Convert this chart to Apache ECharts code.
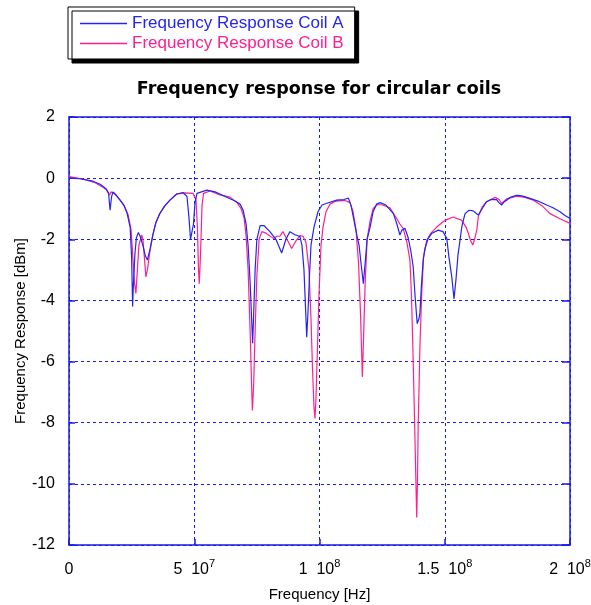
<!DOCTYPE html>
<html>
<head>
<meta charset="utf-8">
<script src="https://cdn.jsdelivr.net/npm/echarts@6/dist/echarts.min.js"></script>
<style>html,body{margin:0;padding:0;background:#fff;}#c{width:591px;height:605px;}</style>
</head>
<body>
<div id="c"></div>
<script>
// Frequencies in MHz, responses in dBm
const freqA = [0,4.4,9.6,12.4,14.8,15.8,16.4,17.0,17.6,18.8,20.4,22.0,23.2,24.4,25.0,25.4,25.7,26.3,26.9,27.7,28.4,29.5,30.5,31.3,32.4,33.5,34.7,36.3,38.3,40.3,43.0,45.5,47.1,47.9,48.5,49.1,49.7,50.3,51.1,55.0,58.3,62.3,66.3,68.3,69.5,70.7,71.5,72.3,72.9,73.3,73.7,74.3,75.0,76.3,77.8,80.2,82.6,84.9,86.6,88.2,90.2,92.2,93.0,93.8,94.4,94.9,95.4,96.0,96.6,97.8,99.4,101.0,102.9,106.9,109.8,111.5,112.6,113.8,115.0,115.8,116.6,117.5,118.2,119.0,120.2,121.4,122.8,124.2,126.5,129.5,130.9,132.1,132.9,134.1,135.4,136.5,137.4,138.1,139.0,139.7,140.1,140.7,141.4,142.1,143.4,144.9,147.4,149.3,150.8,151.7,152.8,153.7,154.5,155.3,156.1,156.9,158.1,159.7,161.4,162.5,163.4,164.9,166.7,168.5,170.7,171.6,172.7,173.7,174.7,176.4,178.7,180.8,184.0,187.2,190.7,193.2,196.0,198.0,200.0];
const respA = [0.0,-0.02,-0.1,-0.2,-0.35,-0.5,-1.05,-0.6,-0.45,-0.55,-0.72,-0.9,-1.15,-1.6,-2.6,-4.2,-3.5,-2.5,-1.95,-1.78,-1.9,-2.2,-2.55,-2.68,-2.3,-1.85,-1.45,-1.15,-0.9,-0.72,-0.52,-0.47,-0.6,-1.3,-2.0,-2.05,-1.5,-0.8,-0.5,-0.39,-0.45,-0.6,-0.75,-0.85,-1.05,-1.5,-2.2,-3.4,-4.6,-5.4,-4.5,-3.0,-2.0,-1.55,-1.55,-1.75,-2.0,-2.45,-2.0,-1.75,-1.85,-1.91,-2.2,-3.0,-4.2,-5.2,-4.4,-3.2,-2.2,-1.6,-1.1,-0.88,-0.82,-0.72,-0.7,-0.65,-0.9,-1.4,-1.9,-2.2,-2.8,-3.45,-2.8,-2.0,-1.6,-1.1,-0.85,-0.8,-0.88,-1.16,-1.5,-1.86,-1.7,-1.64,-1.95,-2.4,-2.9,-3.8,-4.76,-4.6,-4.4,-3.5,-2.68,-2.3,-1.97,-1.8,-1.7,-1.75,-1.97,-2.6,-3.23,-3.95,-3.3,-2.5,-2.03,-1.55,-1.16,-1.05,-1.07,-1.15,-1.21,-1.0,-0.77,-0.7,-0.7,-0.8,-0.88,-0.78,-0.72,-0.62,-0.56,-0.58,-0.66,-0.75,-0.88,-0.97,-1.1,-1.22,-1.32];
const freqB = [0,2.4,6.4,10.4,13.6,15.2,16.2,16.8,18.0,20.4,22.0,23.6,24.8,25.5,26.1,26.7,27.3,27.9,29.0,29.5,30.1,30.7,31.3,32.3,33.5,34.7,36.3,38.3,40.3,43.0,46.3,49.5,50.7,51.3,51.7,52.0,52.5,53.1,53.7,56.3,60.3,64.3,67.1,68.7,69.9,70.7,71.5,72.3,72.9,73.2,73.7,74.3,75.0,75.9,77.0,78.6,81.6,83.0,84.2,85.4,87.0,88.9,90.6,92.2,93.4,94.6,95.8,96.6,97.2,97.8,98.2,98.6,99.2,99.8,100.6,101.4,102.6,104.2,106.6,110.2,112.2,113.4,114.6,115.6,116.4,117.1,117.6,118.2,119.0,120.2,121.4,122.9,124.9,128.1,130.8,132.1,133.4,134.9,136.1,136.7,137.4,138.1,138.8,139.1,139.4,140.1,140.8,141.5,142.8,144.5,146.8,150.1,153.4,156.8,158.5,159.4,160.3,161.2,161.9,162.8,163.4,164.9,166.7,170.1,171.7,172.7,173.7,174.7,178.7,182.0,185.4,188.8,192.0,196.0,200.0];
const respB = [0.05,0.02,-0.05,-0.15,-0.3,-0.4,-0.55,-0.45,-0.5,-0.72,-0.9,-1.2,-1.7,-2.6,-3.4,-3.77,-3.0,-2.2,-1.86,-2.0,-2.6,-3.23,-3.0,-2.4,-1.85,-1.45,-1.15,-0.9,-0.72,-0.52,-0.48,-0.5,-0.7,-1.7,-3.0,-3.45,-2.5,-0.9,-0.5,-0.42,-0.55,-0.62,-0.8,-1.0,-1.3,-1.9,-3.0,-5.0,-6.8,-7.6,-6.8,-5.0,-3.2,-2.0,-1.75,-1.8,-1.97,-1.9,-1.9,-1.75,-2.0,-2.3,-2.05,-1.88,-1.9,-2.1,-3.0,-4.6,-6.2,-7.5,-7.86,-7.2,-5.5,-3.8,-2.2,-1.6,-1.1,-0.85,-0.75,-0.73,-0.8,-1.1,-1.7,-2.8,-4.5,-6.5,-5.2,-3.5,-2.0,-1.4,-1.0,-0.87,-0.87,-0.97,-1.32,-1.5,-1.64,-2.1,-2.68,-3.8,-5.95,-8.5,-11.1,-10.0,-8.1,-5.5,-3.77,-2.6,-2.03,-1.8,-1.6,-1.38,-1.27,-1.38,-1.6,-1.8,-2.05,-2.19,-2.0,-1.7,-1.25,-0.95,-0.77,-0.63,-0.7,-0.83,-0.75,-0.68,-0.59,-0.63,-0.72,-0.9,-1.16,-1.33,-1.48];

const xTickValues = [0, 50, 100, 150, 200];
const xTickMantissa = ['0', '5', '1', '1.5', '2'];
const xTickExponent = ['', '7', '8', '8', '8'];

const seriesNames = ['Frequency Response Coil A', 'Frequency Response Coil B'];
const titleText = 'Frequency response for circular coils';
const xName = 'Frequency [Hz]';
const yName = 'Frequency Response [dBm]';

const FONT = '"Liberation Sans", Arial, sans-serif';
const TITLE_FONT = '"DejaVu Sans", sans-serif';
const BLUE = '#2424f2';
const PINK = '#ff1f8e';
const AXIS = '#1a1ae6';

const chart = echarts.init(document.getElementById('c'), null, {renderer: 'canvas'});
const gridLine = {show: true, lineStyle: {color: AXIS, type: [3, 3], width: 1}};
const axisLine = {show: true, onZero: false, lineStyle: {color: AXIS, width: 1.5}};
const tick = {show: true, inside: true, length: 6, lineStyle: {color: AXIS, width: 1.5}};

chart.setOption({
  animation: false,
  backgroundColor: '#fff',
  textStyle: {fontFamily: FONT},
  graphic: [{
    type: 'text', x: 319, y: 89,
    style: {text: titleText, font: 'bold 17.5px ' + TITLE_FONT, fill: '#000', textAlign: 'center', textVerticalAlign: 'middle'}
  }],
  legend: {
    orient: 'vertical', left: 68, top: 7,
    padding: [8, 11, 7, 12],
    icon: 'rect',
    itemWidth: 47, itemHeight: 1.3, itemGap: 3,
    backgroundColor: '#fff', borderColor: '#000', borderWidth: 1,
    shadowColor: '#000', shadowOffsetX: 4, shadowOffsetY: 4, shadowBlur: 0,
    data: [
      {name: seriesNames[0], textStyle: {color: BLUE}},
      {name: seriesNames[1], textStyle: {color: PINK}}
    ],
    textStyle: {fontSize: 17, fontFamily: FONT}
  },
  grid: {left: 69, right: 21, top: 117, bottom: 60, containLabel: false, outerBoundsMode: 'none'},
  xAxis: [{
    type: 'value', min: 0, max: 200, interval: 50,
    name: xName, nameLocation: 'middle', nameGap: 42, nameMoveOverlap: false,
    nameTextStyle: {fontSize: 15, color: '#000', fontFamily: FONT},
    axisLine: axisLine, axisTick: tick, splitLine: gridLine,
    axisLabel: {
      margin: 13, color: '#000',
      formatter: function (v) {
        const i = xTickValues.indexOf(v);
        if (i < 0) return '';
        if (!xTickExponent[i]) return '{m|' + xTickMantissa[i] + '}';
        return '{m|' + xTickMantissa[i] + '  10}{e|' + xTickExponent[i] + '}';
      },
      rich: {
        m: {fontSize: 16, fontFamily: FONT, color: '#000', lineHeight: 20, verticalAlign: 'bottom'},
        e: {fontSize: 11, fontFamily: FONT, color: '#000', lineHeight: 12, verticalAlign: 'top'}
      }
    }
  }, {
    type: 'value', min: 0, max: 200, interval: 50, position: 'top',
    axisLine: axisLine, axisTick: {show: false}, axisLabel: {show: false}, splitLine: {show: false}
  }],
  yAxis: [{
    type: 'value', min: -12, max: 2, interval: 2,
    name: yName, nameLocation: 'middle', nameGap: 41, nameRotate: 90, nameMoveOverlap: false,
    nameTextStyle: {fontSize: 15, color: '#000', fontFamily: FONT},
    axisLine: axisLine, axisTick: tick, splitLine: gridLine,
    axisLabel: {margin: 14, fontSize: 16, color: '#000', fontFamily: FONT}
  }, {
    type: 'value', min: -12, max: 2, interval: 2, position: 'right',
    axisLine: axisLine, axisTick: {show: true, inside: true, length: 8, lineStyle: {color: AXIS, width: 1.5}},
    axisLabel: {show: false}, splitLine: {show: false}
  }],
  series: [{
    name: seriesNames[0], type: 'line', symbol: 'none', xAxisIndex: 0, yAxisIndex: 0,
    lineStyle: {color: BLUE, width: 1.2}, itemStyle: {color: BLUE},
    data: freqA.map((f, i) => [f, respA[i]]), z: 3
  }, {
    name: seriesNames[1], type: 'line', symbol: 'none', xAxisIndex: 0, yAxisIndex: 0,
    lineStyle: {color: PINK, width: 1.2}, itemStyle: {color: PINK},
    data: freqB.map((f, i) => [f, respB[i]]), z: 2
  }]
});
</script>
</body>
</html>
